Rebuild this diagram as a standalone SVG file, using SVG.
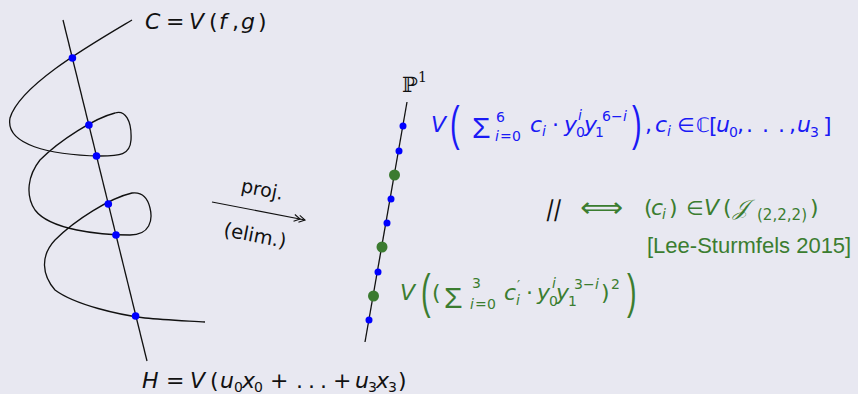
<svg xmlns="http://www.w3.org/2000/svg" width="858" height="394" viewBox="0 0 858 394">
<style>
  text { font-family: "DejaVu Sans", "Liberation Sans", sans-serif; font-size: 22px; }
  .it { font-style: italic; }
  .s { font-size: 14px; }
  .sym { font-family: "DejaVu Sans", sans-serif; font-size: 20px; }
  .sig { font-family: "Liberation Sans", Arial, sans-serif; font-size: 30px; }
  .big { font-family: "Liberation Sans", Arial, sans-serif; font-size: 40px; }
  .blue { fill: #1a1af5; }
  .green { fill: #3b7d30; }
  .ink { fill: #111; }
  .curve { fill: none; stroke: #111; stroke-width: 1.3; }
  .bdot { fill: #0000ff; }
  .gdot { fill: #3b7b30; }
</style>
<defs>
  <marker id="twohead" markerWidth="16" markerHeight="12" refX="14" refY="6" orient="auto" markerUnits="userSpaceOnUse">
    <path d="M8,2.5 L14,6 L8,9.5 M3,2.5 L9,6 L3,9.5" fill="none" stroke="#111" stroke-width="1.1"/>
  </marker>
</defs>
<rect width="858" height="394" fill="#e8e8f1"/>

<g id="curve-C">
  <path class="curve" d="M132,20 C90,45 20,85 10,118 C5,145 50,155 100,156 C120,156 130,155 131,140 C132,120 125,110 115,113 C95,118 60,140 40,160 C28,175 25,195 35,210 C50,230 100,235 130,235 C150,235 153,220 150,208 C147,195 140,192 132,193 C110,198 75,220 55,240 C40,256 42,275 55,290 C75,305 120,315 145,318 C165,320 190,321 205,322"/>
</g>
<g id="line-H">
  <line class="curve" x1="63" y1="20" x2="147" y2="361"/>
  <circle class="bdot" cx="72.4" cy="58" r="3.8"/>
  <circle class="bdot" cx="88.9" cy="125" r="3.8"/>
  <circle class="bdot" cx="96.5" cy="156" r="3.8"/>
  <circle class="bdot" cx="108.3" cy="204" r="3.8"/>
  <circle class="bdot" cx="116" cy="235" r="3.8"/>
  <circle class="bdot" cx="135.6" cy="316" r="3.8"/>
</g>
<g id="label-C">
  <text class="ink"><tspan class="it" x="145" y="29">C</tspan><tspan x="166" y="29">=</tspan><tspan class="it" x="189" y="29">V</tspan><tspan x="209" y="29">(</tspan><tspan class="it" x="219" y="29">f</tspan><tspan x="232" y="29">,</tspan><tspan class="it" x="241" y="29">g</tspan><tspan x="258" y="29">)</tspan></text>
</g>
<g id="label-H">
  <text class="ink"><tspan class="it" x="142" y="388">H</tspan><tspan x="166" y="388">=</tspan><tspan class="it" x="190" y="388">V</tspan><tspan x="210" y="388">(</tspan><tspan class="it" x="220" y="388">u</tspan><tspan class="s" x="234" y="392">0</tspan><tspan class="it" x="242" y="388">x</tspan><tspan class="s" x="254" y="392">0</tspan><tspan x="270" y="388">+</tspan><tspan x="296" y="388">.</tspan><tspan x="308" y="388">.</tspan><tspan x="320" y="388">.</tspan><tspan x="333" y="388">+</tspan><tspan class="it" x="355" y="388">u</tspan><tspan class="s" x="368" y="392">3</tspan><tspan class="it" x="376" y="388">x</tspan><tspan class="s" x="388" y="392">3</tspan><tspan x="398" y="388">)</tspan></text>
</g>

<g id="connectors">
  <line x1="212" y1="202" x2="305" y2="220" stroke="#111" stroke-width="1.1" marker-end="url(#twohead)"/>
</g>
<g id="label-proj">
  <text class="ink" transform="translate(262,191) rotate(11)" text-anchor="middle" style="font-size:19px"><tspan x="0" y="5">proj.</tspan></text>
  <text class="ink" transform="translate(255,236) rotate(11)" text-anchor="middle" style="font-size:19.5px"><tspan x="0" y="6">(elim.)</tspan></text>
</g>

<g id="P1">
  <text class="ink" x="402" y="92" style="font-family:'DejaVu Serif',serif;font-size:21px">ℙ</text>
  <text class="ink s" x="418" y="82" style="font-family:'DejaVu Serif',serif">1</text>
  <line class="curve" x1="407" y1="102" x2="365" y2="342"/>
  <circle class="bdot" cx="403" cy="126" r="3.5"/>
  <circle class="bdot" cx="399" cy="151" r="3.5"/>
  <circle class="gdot" cx="394.5" cy="175" r="5.5"/>
  <circle class="bdot" cx="391" cy="199" r="3.5"/>
  <circle class="bdot" cx="387" cy="223" r="3.5"/>
  <circle class="gdot" cx="382" cy="247" r="5.5"/>
  <circle class="bdot" cx="378" cy="272" r="3.5"/>
  <circle class="gdot" cx="373.5" cy="296" r="5.5"/>
  <circle class="bdot" cx="369" cy="320" r="3.5"/>
</g>

<g id="formula-blue">
  <text class="blue"><tspan class="it" x="431" y="132">V</tspan><tspan class="s" x="496" y="122">6</tspan><tspan class="s it" x="495" y="141">i</tspan><tspan class="s" x="500" y="141">=</tspan><tspan class="s" x="512" y="141">0</tspan><tspan class="it" x="530" y="132">c</tspan><tspan class="s it" x="542" y="136">i</tspan><tspan x="552" y="132">·</tspan><tspan class="it" x="564" y="132">y</tspan><tspan class="s" x="576" y="137">0</tspan><tspan class="s it" x="578" y="120">i</tspan><tspan class="it" x="584" y="132">y</tspan><tspan class="s" x="595" y="137">1</tspan><tspan class="s" x="602" y="121">6</tspan><tspan class="s" x="611" y="121">−</tspan><tspan class="s it" x="623" y="121">i</tspan><tspan x="645" y="132">,</tspan><tspan class="it" x="655" y="132">c</tspan><tspan class="s it" x="667" y="136">i</tspan><tspan x="709" y="133">[</tspan><tspan class="it" x="716" y="132">u</tspan><tspan class="s" x="729" y="137">0</tspan><tspan x="737" y="132">,</tspan><tspan x="746" y="132">.</tspan><tspan x="762" y="132">.</tspan><tspan x="778" y="132">.</tspan><tspan x="789" y="132">,</tspan><tspan class="it" x="797" y="132">u</tspan><tspan class="s" x="810" y="137">3</tspan><tspan x="823" y="133">]</tspan></text>
  <text class="blue sig" x="472" y="138" style="font-size:30px">Σ</text>
  <text class="blue big" transform="translate(450,140) scale(0.72,1.2)">(</text>
  <text class="blue big" transform="translate(632,140) scale(0.72,1.2)">)</text>
  <text class="blue sym" x="677" y="132">∈</text>
  <text class="blue sym" x="696" y="132">ℂ</text>
</g>

<g id="equivalence">
  <text class="ink" transform="translate(545,216) skewX(-13)">||</text>
  <text class="green sym" x="580" y="217" textLength="43" lengthAdjust="spacingAndGlyphs" style="font-size:28px">⟺</text>
  <text class="green"><tspan x="644" y="215">(</tspan><tspan class="it" x="651" y="215">c</tspan><tspan class="s it" x="662" y="219">i</tspan><tspan x="669" y="215">)</tspan><tspan class="it" x="704" y="215">V</tspan><tspan x="723" y="215">(</tspan><tspan x="810" y="215">)</tspan></text>
  <text class="green sym" x="686" y="215">∈</text>
  <text class="green it" x="733" y="215" style="font-family:'DejaVu Serif',serif">𝒥</text>
  <text class="green s" x="757" y="220" textLength="50" lengthAdjust="spacingAndGlyphs" style="font-size:15px">(2,2,2)</text>
  <text class="green" x="647" y="253" style="font-family:'Liberation Sans',Arial,sans-serif;font-size:22px">[Lee-Sturmfels 2015]</text>
</g>

<g id="formula-green">
  <text class="green"><tspan class="it" x="400" y="300">V</tspan><tspan x="432" y="300">(</tspan><tspan class="s" x="472" y="288">3</tspan><tspan class="s it" x="470" y="309">i</tspan><tspan class="s" x="475" y="309">=</tspan><tspan class="s" x="487" y="309">0</tspan><tspan class="it" x="504" y="300">c</tspan><tspan class="s" x="517" y="290">′</tspan><tspan class="s it" x="516" y="305">i</tspan><tspan x="526" y="300">·</tspan><tspan class="it" x="537" y="300">y</tspan><tspan class="s" x="549" y="306">0</tspan><tspan class="s it" x="552" y="288">i</tspan><tspan class="it" x="556" y="300">y</tspan><tspan class="s" x="568" y="306">1</tspan><tspan class="s" x="574" y="289">3</tspan><tspan class="s" x="583" y="289">−</tspan><tspan class="s it" x="595" y="289">i</tspan><tspan x="601" y="300">)</tspan><tspan class="s" x="611" y="289">2</tspan></text>
  <text class="green sig" x="444" y="308" style="font-size:30px">Σ</text>
  <text class="green big" transform="translate(421,308) scale(0.72,1.2)">(</text>
  <text class="green big" transform="translate(627,308) scale(0.72,1.2)">)</text>
</g>
</svg>
